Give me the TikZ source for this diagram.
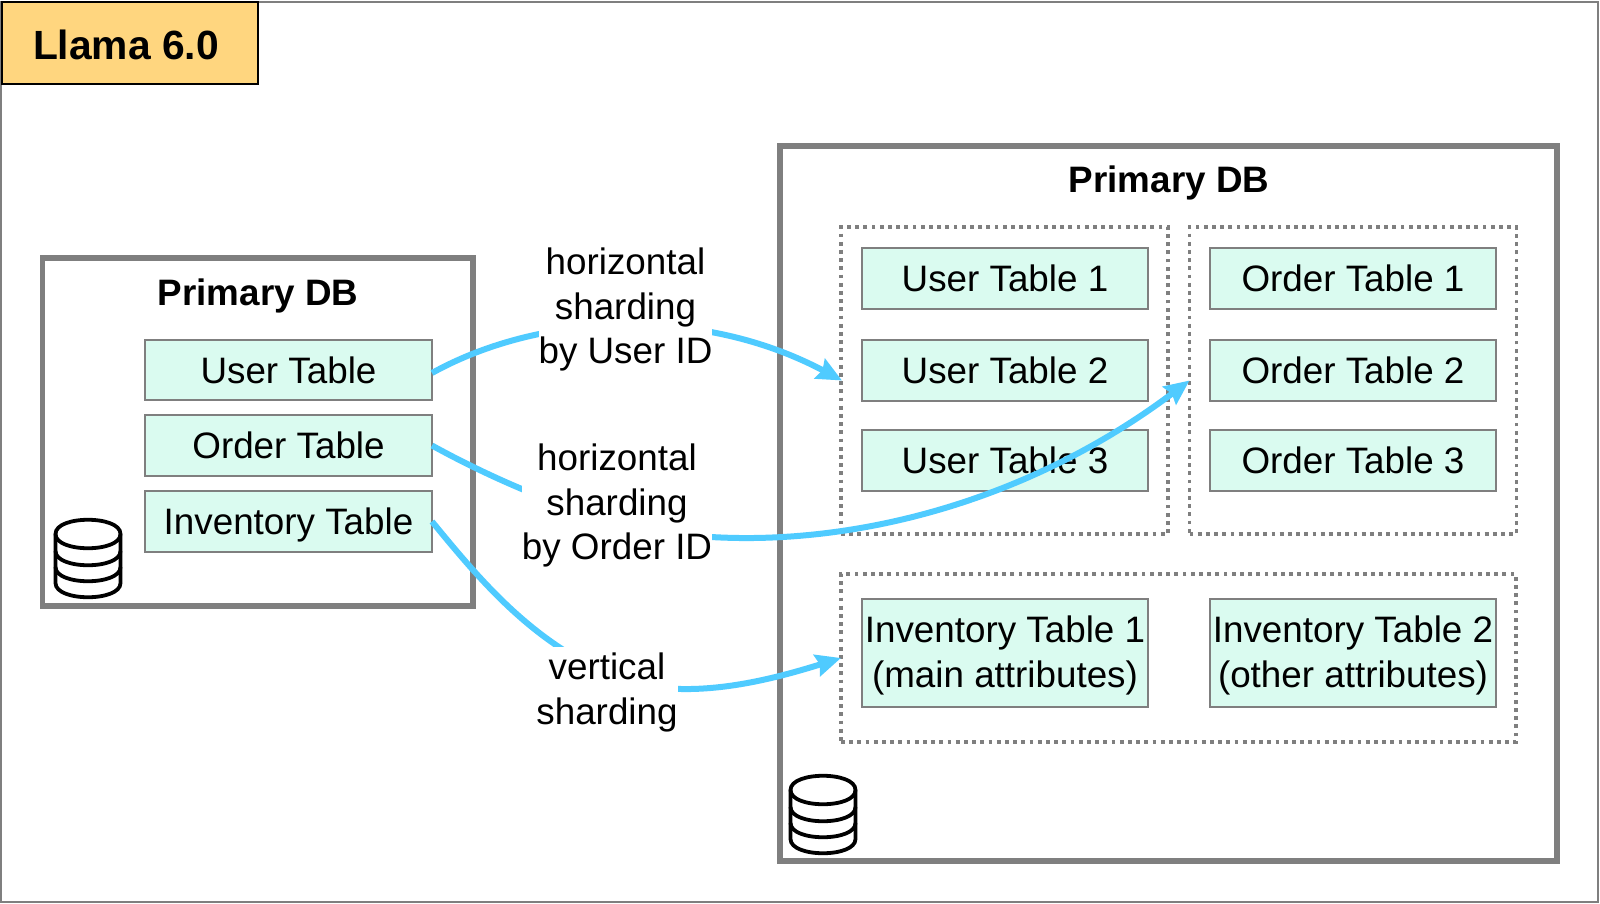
\documentclass[tikz,border=0pt]{standalone}
\usepackage{fontspec}
\setmainfont{Liberation Sans}
\usetikzlibrary{arrows.meta}
\definecolor{edgegray}{HTML}{7F7F7F}
\definecolor{mint}{HTML}{DAFBF0}
\definecolor{amber}{HTML}{FFD67F}
\definecolor{sky}{HTML}{4FCBFF}
\tikzset{
  every node/.style={outer sep=0pt},
  txt/.style={font=\fontsize{36.8}{44.4}\selectfont},
  tbl/.style={draw=edgegray,line width=2pt,fill=mint,inner sep=0pt,align=center,txt},
  dbbox/.style={draw=edgegray,line width=5.5pt,inner sep=0pt,fill=white},
  dotbox/.style={draw=edgegray,line width=3.6pt,dash pattern=on 3.8pt off 4.4pt,inner sep=0pt},
  dbtitle/.style={font=\fontsize{36.8}{44}\selectfont\bfseries,inner sep=0pt},
  lbl/.style={fill=white,inner sep=0pt,align=center,txt},
  flowline/.style={draw=sky,line width=6pt},
  flow/.style={flowline,-{Stealth[length=25pt,width=22pt,inset=3pt]}},
  pics/dbicon/.style={code={
    \draw[line width=3.8pt,black,fill=white,line join=round]
      (-32.5,0) .. controls (-32.5,-19) and (32.5,-19) .. (32.5,0)
      -- (32.5,49) .. controls (32.5,68) and (-32.5,68) .. (-32.5,49) -- cycle;
    \draw[line width=3.8pt,black]
      (-32.5,0) .. controls (-32.5,19) and (32.5,19) .. (32.5,0);
    \draw[line width=3.8pt,black]
      (-32.5,17) .. controls (-32.5,36) and (32.5,36) .. (32.5,17);
    \draw[line width=3.8pt,black]
      (-32.5,33) .. controls (-32.5,52) and (32.5,52) .. (32.5,33);
  }}
}
\begin{document}
\begin{tikzpicture}[x=1pt,y=-1pt]
\useasboundingbox (0,0) rectangle (1600,904);
\node[draw=edgegray,line width=2pt,fill=white,inner sep=0pt,minimum width=1597pt,minimum height=900pt] (frame) at (799.5,452) {};
\node[draw=black,line width=2.6pt,fill=amber,inner sep=0pt,minimum width=256pt,minimum height=82pt,font=\fontsize{40.8}{48}\selectfont\bfseries] (badge) at (130,43) {\hspace*{-8pt}\raisebox{-2pt}[\height][0pt]{Llama 6.0}};

\node[dbbox,minimum width=430.5pt,minimum height=348pt] (leftdb) at (257.75,432) {};
\node[dbbox,minimum width=777pt,minimum height=715pt] (rightdb) at (1168.5,503.5) {};
\node[dbtitle] (lefttitle) at (258,296) {Primary DB};
\node[dbtitle] (righttitle) at (1169,183) {Primary DB};

\node[dotbox,minimum width=327pt,minimum height=307pt] (dotuser) at (1004.5,380.5) {};
\node[dotbox,minimum width=327pt,minimum height=307pt] (dotorder) at (1353,380.5) {};
\node[dotbox,minimum width=675pt,minimum height=168pt] (dotinv) at (1178.5,658) {};

\node[tbl,minimum width=287pt,minimum height=60pt] (user) at (288.5,370) {User Table};
\node[tbl,minimum width=287pt,minimum height=61pt] (order) at (288.5,445.5) {Order Table};
\node[tbl,minimum width=287pt,minimum height=61pt] (inv) at (288.5,521.5) {\raisebox{0pt}[\height][0pt]{Inventory Table}};

\node[tbl,minimum width=286pt,minimum height=61pt] (u1) at (1005,278) {User Table 1};
\node[tbl,minimum width=286pt,minimum height=61pt] (u2) at (1005,370) {User Table 2};
\node[tbl,minimum width=286pt,minimum height=61pt] (u3) at (1005,460) {User Table 3};
\node[tbl,minimum width=286pt,minimum height=61pt] (o1) at (1353,278) {Order Table 1};
\node[tbl,minimum width=286pt,minimum height=61pt] (o2) at (1353,370) {Order Table 2};
\node[tbl,minimum width=286pt,minimum height=61pt] (o3) at (1353,460) {Order Table 3};
\node[tbl,minimum width=286pt,minimum height=108pt] (i1) at (1005,653) {\rule{0pt}{31.5pt}Inventory Table 1\\(main attributes)};
\node[tbl,minimum width=286pt,minimum height=108pt] (i2) at (1353,653) {\rule{0pt}{31.5pt}Inventory Table 2\\(other attributes)};

\pic at (88,534) {dbicon};
\pic at (823,790) {dbicon};

\coordinate (omid) at (640,528);
\coordinate (vmid) at (610,675);
\draw[flow] ([yshift=-3pt]user.east) .. controls (540,313) and (700,305) .. ([xshift=1pt]dotuser.west);
\draw[flowline] (order.east) .. controls (480,472) and (560,510) .. (omid);
\draw[flow] (omid) .. controls (790,558) and (1000,523) .. (dotorder.west);
\draw[flowline] (inv.east) .. controls (480,580) and (530,640) .. (vmid);
\draw[flow] (vmid) .. controls (680,705) and (770,680) .. (dotinv.west);

\node[lbl] (lu) at (625.5,309.5) {horizontal\\sharding\\by User ID};
\node[lbl] (lo) at (617,505.5) {horizontal\\sharding\\by Order ID};
\node[lbl,inner ysep=6pt] (lv) at (607,692.5) {vertical\\sharding};
\end{tikzpicture}
\end{document}
